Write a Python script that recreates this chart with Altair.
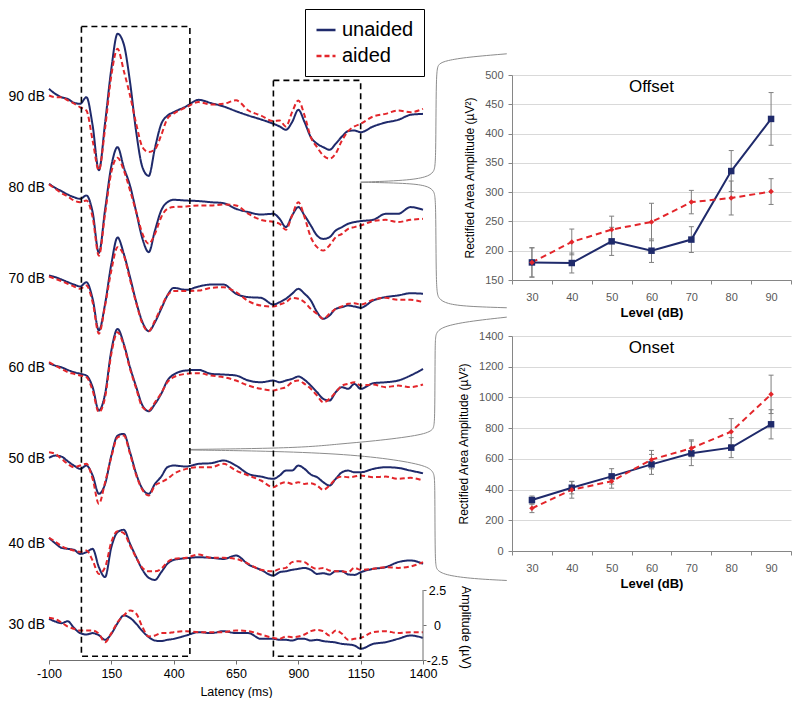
import altair as alt
import pandas as pd

# ---------------- waveform data (left panel) ----------------
LATENCY = [-100, -75, -50, -25, 0, 25, 50, 75, 100, 125, 150, 175, 200, 225, 250, 275, 300, 325, 350, 375, 400,
           450, 500, 550, 600, 650, 700, 750,
           800, 825, 850, 875, 900, 925, 950, 975, 1000, 1025, 1050, 1075, 1100, 1125, 1150,
           1200, 1250, 1300, 1350, 1400]

LEVELS = [90, 80, 70, 60, 50, 40, 30]
LEVEL_LABELS = ["90 dB", "80 dB", "70 dB", "60 dB", "50 dB", "40 dB", "30 dB"]
OFFSETS = [37.68, 31.18, 24.68, 18.39, 11.89, 5.82, 0.0]

U90 = [0.62, 0.26, 0.02, -0.1, -0.38, -0.45, 0.02, -2.0, -5.2, -1.8, 2.05, 4.55, 3.8, 1.1, -2.5, -5.0, -5.6, -3.6, -1.9, -1.3, -1.05,
       -0.64, -0.17, -0.4, -0.64, -0.98, -1.29, -1.57,
       -1.88, -2.07, -2.31, -1.76, -0.88, -1.76, -2.83, -3.3, -3.55, -3.74, -3.3, -2.79, -2.4, -2.36, -2.48,
       -2.07, -1.79, -1.6, -1.24, -1.17]
A90 = [0.14, 0.02, 0.02, -0.2, -0.43, -0.7, -0.93, -3.07, -5.2, -2.2, 1.57, 3.48, 1.9, 0.14, -1.9, -3.55, -3.9, -3.7, -2.7, -1.5, -1.15,
       -0.7, -0.33, -0.5, -0.45, -0.2, -0.93, -1.29,
       -1.69, -1.64, -2.07, -1.05, -0.21, -1.29, -2.83, -3.55, -4.14, -4.38, -4.0, -3.07, -2.4, -2.07, -1.88,
       -1.36, -1.17, -0.93, -1.05, -0.81]
U80 = [0.33, 0.05, -0.19, -0.43, -0.62, -0.74, -0.5, -1.69, -4.6, -1.5, 1.6, 2.95, 1.5, 0.2, -1.69, -3.6, -4.55, -3.0, -1.57, -0.98, -0.81,
       -0.86, -0.9, -0.98, -1.05, -1.45, -1.69, -1.86,
       -1.81, -2.17, -2.76, -1.93, -1.33, -1.93, -2.64, -3.36, -3.6, -3.48, -3.0, -2.76, -2.52, -2.4, -2.33,
       -2.24, -1.81, -1.81, -1.33, -1.52]
A80 = [0.29, -0.02, -0.33, -0.57, -0.86, -0.98, -0.86, -2.05, -4.8, -1.8, 1.17, 2.2, 1.3, -0.14, -1.69, -3.24, -3.95, -3.24, -2.05, -1.45, -1.33,
       -1.29, -1.21, -1.21, -1.14, -1.21, -1.81, -2.24,
       -2.4, -2.52, -2.95, -1.93, -0.98, -2.05, -3.48, -4.19, -4.43, -4.07, -3.48, -3.24, -2.88, -2.76, -2.64,
       -2.33, -2.24, -2.4, -2.24, -2.17]
U70 = [0.29, 0.17, 0.0, -0.19, -0.36, -0.5, -0.19, -1.38, -3.64, -1.74, 1.1, 3.0, 1.83, 0.17, -1.62, -3.05, -3.69, -3.05, -2.1, -1.14, -0.6,
       -0.74, -0.5, -0.36, -0.36, -1.02, -1.26, -1.31,
       -1.79, -1.62, -1.38, -1.02, -0.67, -1.02, -1.5, -2.33, -2.81, -2.57, -2.1, -1.98, -1.86, -1.93, -2.02,
       -1.5, -1.26, -1.14, -0.98, -1.02]
A70 = [0.21, 0.05, -0.12, -0.31, -0.5, -0.67, -0.43, -1.62, -3.88, -1.86, 0.64, 2.31, 1.71, -0.02, -1.69, -3.17, -3.69, -2.93, -1.98, -1.14, -0.83,
       -0.83, -0.79, -0.6, -0.55, -0.9, -1.55, -1.86,
       -1.93, -1.79, -1.62, -1.31, -1.38, -1.62, -2.1, -2.45, -2.81, -2.45, -2.1, -1.93, -1.74, -1.69, -1.79,
       -1.45, -1.31, -1.45, -1.45, -1.62]
U60 = [0.31, 0.14, 0.02, -0.17, -0.33, -0.45, -0.57, -1.4, -3.07, -1.88, 1.21, 2.76, 1.69, 0.02, -1.4, -2.71, -3.12, -2.6, -1.88, -0.93, -0.5,
       -0.21, -0.17, -0.45, -0.5, -0.57, -0.93, -1.05,
       -0.93, -1.05, -0.93, -0.81, -0.64, -0.88, -1.29, -1.76, -2.24, -2.36, -1.76, -1.4, -1.52, -1.17, -1.52,
       -1.12, -1.05, -0.93, -0.57, -0.1]
A60 = [0.38, 0.14, -0.1, -0.33, -0.45, -0.57, -0.69, -1.64, -3.19, -2.12, 0.98, 2.52, 1.57, -0.1, -1.52, -2.83, -3.07, -2.48, -1.83, -1.05, -0.69,
       -0.45, -0.4, -0.57, -0.69, -0.93, -1.29, -1.52,
       -1.64, -1.52, -1.4, -1.05, -0.93, -1.17, -1.52, -2.0, -2.48, -2.24, -1.76, -1.29, -1.17, -1.05, -1.29,
       -1.21, -1.4, -1.29, -1.4, -1.21]
U50 = [0.05, 0.21, 0.14, -0.19, -0.5, -0.74, -0.5, -1.21, -2.52, -1.81, 0.21, 1.64, 1.76, 0.45, -1.1, -2.17, -2.52, -1.81, -1.29, -0.62, -0.5,
       -0.57, -0.38, -0.33, -0.14, -0.5, -1.1, -1.29,
       -1.45, -1.21, -0.86, -0.86, -0.5, -0.74, -1.14, -1.33, -1.69, -1.93, -1.45, -0.98, -0.86, -0.98, -0.98,
       -0.74, -0.62, -0.67, -0.86, -1.05]
A50 = [0.45, 0.33, -0.02, -0.38, -0.62, -0.5, -0.38, -1.45, -3.24, -1.69, 0.1, 1.52, 1.64, 0.33, -1.21, -2.24, -2.64, -1.93, -1.69, -1.45, -1.1,
       -0.74, -0.62, -0.62, -0.38, -0.86, -1.21, -1.57,
       -2.05, -1.81, -1.69, -1.81, -1.69, -1.81, -1.76, -1.93, -2.24, -1.93, -1.45, -1.29, -1.33, -1.29, -1.21,
       -1.33, -1.29, -1.45, -1.38, -1.57]
U40 = [0.4, 0.02, -0.31, -0.38, -0.45, -0.74, -0.62, -0.38, -1.69, -2.4, -0.26, 0.81, 0.98, -0.02, -0.98, -1.88, -2.45, -2.6, -2.05, -1.45, -1.17,
       -1.05, -0.98, -1.02, -1.1, -0.86, -1.5, -1.88,
       -2.29, -2.05, -1.98, -1.88, -1.81, -1.74, -1.88, -2.17, -2.12, -2.21, -1.98, -1.98, -2.21, -2.24, -2.05,
       -1.81, -1.69, -1.33, -1.21, -1.45]
A40 = [0.4, 0.14, -0.19, -0.38, -0.5, -0.6, -0.5, -1.21, -2.17, -1.69, 0.1, 0.88, 0.74, -0.14, -1.02, -1.74, -1.98, -1.98, -1.81, -1.33, -1.1,
       -1.02, -0.79, -1.02, -1.02, -1.1, -1.45, -1.88,
       -1.98, -1.81, -1.74, -1.33, -1.26, -1.33, -1.64, -1.81, -1.74, -1.93, -1.98, -1.98, -2.05, -1.74, -1.88,
       -1.81, -1.69, -1.74, -1.64, -1.33]
U30 = [0.44, 0.25, 0.13, 0.27, -0.2, -0.58, -0.68, -0.58, -0.73, -1.06, -0.63, 0.13, 0.68, 0.51, 0.08, -0.44, -0.87, -1.11, -1.15, -1.06, -0.99,
       -0.75, -0.51, -0.58, -0.44, -0.58, -0.58, -0.99,
       -0.99, -1.06, -1.06, -1.11, -0.99, -0.99, -1.11, -1.06, -1.15, -1.2, -1.25, -1.35, -1.39, -1.46, -1.7,
       -1.35, -1.23, -0.99, -0.75, -0.92]
A30 = [0.51, 0.42, 0.18, -0.11, -0.27, -0.39, -0.39, -0.39, -0.63, -1.23, -0.58, 0.2, 0.68, 1.04, 0.8, -0.15, -0.82, -0.75, -0.58, -0.58, -0.51,
       -0.44, -0.51, -0.51, -0.51, -0.39, -0.44, -0.68,
       -0.92, -0.99, -0.82, -0.87, -0.82, -0.68, -0.44, -0.35, -0.44, -0.75, -0.39, -0.63, -1.06, -0.99, -0.92,
       -0.51, -0.44, -0.58, -0.51, -0.51]

UNAIDED = [U90, U80, U70, U60, U50, U40, U30]
AIDED = [A90, A80, A70, A60, A50, A40, A30]

# dashed analysis windows (ms / uV in the stacked-trace frame)
BOX_START = [30, 800]
BOX_END = [465, 1150]
BOX_TOP = [42.75, 38.9]
BOX_BOTTOM = [-2.23, -2.23]

# curly connectors (annotation, in the left panel's ms / uV frame)
BRACE_OFF_UP_T = [1736, 1575, 1495, 1462, 1452, 1452, 1444, 1415, 1335, 1150]
BRACE_OFF_UP_V = [40.8, 40.56, 40.32, 40.09, 39.61, 32.94, 32.34, 31.99, 31.75, 31.63]
BRACE_OFF_LO_T = [1150, 1335, 1415, 1444, 1452, 1452, 1462, 1495, 1575, 1736]
BRACE_OFF_LO_V = [31.63, 31.56, 31.39, 31.04, 30.44, 23.89, 23.3, 22.94, 22.75, 22.66]
BRACE_ON_UP_T = [1736, 1577, 1480, 1452, 1448, 1448, 1441, 1388, 1201, 1067, 907, 466]
BRACE_ON_UP_V = [21.99, 21.68, 21.32, 20.89, 20.32, 14.37, 13.89, 13.54, 13.13, 12.94, 12.64, 12.54]
BRACE_ON_LO_T = [466, 770, 1067, 1268, 1415, 1444, 1448, 1448, 1455, 1495, 1602, 1736]
BRACE_ON_LO_V = [12.5, 12.43, 12.23, 11.87, 11.39, 10.91, 10.32, 4.37, 3.89, 3.54, 3.3, 3.18]

# ---------------- summary data (right panels) ----------------
LEVEL_DB = [30, 40, 50, 60, 70, 80, 90]
OFFSET_UNAIDED = [180, 179, 216, 200, 219, 336, 425]
OFFSET_UNAIDED_ERR = [25, 17, 24, 20, 22, 35, 45]
OFFSET_AIDED = [180, 215, 236, 249, 283, 290, 301]
OFFSET_AIDED_ERR = [25, 22, 23, 32, 20, 29, 22]
ONSET_UNAIDED = [332, 412, 486, 564, 636, 673, 825]
ONSET_UNAIDED_ERR = [26, 40, 50, 65, 80, 65, 95]
ONSET_AIDED = [278, 399, 454, 595, 669, 777, 1020]
ONSET_AIDED_ERR = [28, 55, 45, 60, 55, 85, 125]

BLUE = "#1f2a6b"
RED = "#e3262b"
FONT = "Liberation Sans"

# ---------------- build tables ----------------
rows = []
for lev, off, u, a in zip(LEVELS, OFFSETS, UNAIDED, AIDED):
    for t, vu, va in zip(LATENCY, u, a):
        rows.append({"level": lev, "cond": "unaided", "t": t, "y": vu + off})
        rows.append({"level": lev, "cond": "aided", "t": t, "y": va + off})
wave = pd.DataFrame(rows)

boxes = pd.DataFrame({"x0": BOX_START, "x1": BOX_END, "y0": BOX_BOTTOM, "y1": BOX_TOP})

brace_rows = []
for name, ts, vs in [("ou", BRACE_OFF_UP_T, BRACE_OFF_UP_V), ("ol", BRACE_OFF_LO_T, BRACE_OFF_LO_V),
                     ("nu", BRACE_ON_UP_T, BRACE_ON_UP_V), ("nl", BRACE_ON_LO_T, BRACE_ON_LO_V)]:
    for i, (t, v) in enumerate(zip(ts, vs)):
        brace_rows.append({"seg": name, "i": i, "t": t, "y": v})
braces = pd.DataFrame(brace_rows)

labels = pd.DataFrame({"t": [-100] * len(LEVELS), "y": OFFSETS, "label": LEVEL_LABELS})

# ---------------- left panel ----------------
W_L, H_L = 374, 642
xs = alt.Scale(domain=[-100, 1400], nice=False, zero=False)
ys = alt.Scale(domain=[-2.5, -2.5 + H_L / 14.0], nice=False, zero=False)

neg_expr = "datum.value < 0 ? '-' + abs(datum.value) : '' + datum.value"
x_axis = alt.Axis(values=[-100, 150, 400, 650, 900, 1150, 1400], labelExpr=neg_expr, labelFlush=False,
                  title="Latency (ms)", labelFontSize=12.5, titleFontSize=12.5, titleFontWeight="normal",
                  labelColor="black", titleColor="black", domainColor="#6f6f6f", tickColor="#6f6f6f",
                  tickSize=4, labelPadding=3, titlePadding=6, grid=False)
y_axis = alt.Axis(orient="right", values=[-2.5, 0, 2.5], labelExpr=neg_expr, domain=False, grid=False,
                  tickSize=3, tickColor="#6f6f6f", labelAlign="center", labelPadding=11, labelFontSize=12.5,
                  labelColor="black", title="Amplitude (µV)", titleAngle=90, titleX=42, titleY=609,
                  titleAlign="center", titleBaseline="middle", titleFontSize=12.5, titleFontWeight="normal",
                  titleColor="black")


def LX(f):
    return alt.X(f, scale=xs, axis=x_axis)


def LY(f):
    return alt.Y(f, scale=ys, axis=y_axis)


leg = alt.Legend(orient="none", legendX=256, legendY=-9, title=None, fillColor="white", strokeColor="black",
                 padding=10, labelFontSize=20, labelColor="black", symbolType="stroke", symbolStrokeWidth=2.5,
                 symbolSize=361, rowPadding=5, labelOffset=5)
color = alt.Color("cond:N", scale=alt.Scale(domain=["unaided", "aided"], range=[BLUE, RED]), legend=leg)
dash = alt.StrokeDash("cond:N", scale=alt.Scale(domain=["unaided", "aided"], range=[[1, 0], [5, 3]]), legend=leg)

line_u = alt.Chart(wave[wave["cond"] == "unaided"]).mark_line(strokeWidth=2, interpolate="monotone").encode(
    x=LX("t:Q"), y=LY("y:Q"), color=color, strokeDash=dash, detail="level:N")
line_a = alt.Chart(wave[wave["cond"] == "aided"]).mark_line(strokeWidth=2, interpolate="monotone").encode(
    x=LX("t:Q"), y=LY("y:Q"), color=color, strokeDash=dash, detail="level:N")
box_layer = alt.Chart(boxes).mark_rect(fillOpacity=0, stroke="black", strokeWidth=1.6, strokeDash=[6, 4]).encode(
    x=LX("x0:Q"), x2="x1:Q", y=LY("y0:Q"), y2="y1:Q")
brace_layer = alt.Chart(braces).mark_line(color="#8c8c8c", strokeWidth=1, interpolate="basis", clip=False).encode(
    x=LX("t:Q"), y=LY("y:Q"), detail="seg:N", order="i:Q")
label_layer = alt.Chart(labels).mark_text(align="right", baseline="middle", dx=-4, fontSize=14, color="black").encode(
    x=LX("t:Q"), y=LY("y:Q"), text="label:N")
amp_rule = alt.Chart(pd.DataFrame({"t": [1400], "y0": [-2.5], "y1": [2.5]})).mark_rule(color="#6f6f6f").encode(
    x=LX("t:Q"), y=LY("y0:Q"), y2="y1:Q")

left = alt.layer(line_u, line_a, brace_layer, box_layer, label_layer, amp_rule).properties(width=W_L, height=H_L)

# ---------------- right panels ----------------
W_R = 279


def panel(name, ydom, yvals, uv, ue, av, ae, height):
    df = pd.DataFrame({"level": LEVEL_DB, "u": uv, "ue": ue, "a": av, "ae": ae})
    base = alt.Chart(df).transform_calculate(
        ulo="datum.u - datum.ue", uhi="datum.u + datum.ue",
        alo="datum.a - datum.ae", ahi="datum.a + datum.ae")
    xax = alt.Axis(values=[25, 35, 45, 55, 65, 75, 85, 95],
                   labelExpr="datum.value < 90 ? '' + (datum.value + 5) : ''",
                   labelOffset=W_R / 14.0, labelFlush=False, grid=False, tickSize=4, tickColor="#868686",
                   domainColor="#868686", labelColor="#595959", labelFontSize=11, labelPadding=7,
                   title="Level (dB)", titleFontSize=13, titleFontWeight="bold", titleColor="black",
                   titlePadding=4)
    X = alt.X("level:Q", scale=alt.Scale(domain=[25, 95], nice=False, zero=False), axis=xax)
    ysc = alt.Scale(domain=ydom, nice=False, zero=False)
    yax = alt.Axis(values=yvals, format="d", grid=True, gridColor="#d9d9d9", tickSize=4, tickColor="#868686",
                   domainColor="#868686", labelColor="#595959", labelFontSize=11, labelPadding=5,
                   title="Rectified Area Amplitude  (µV²)", titleFontSize=12, titleFontWeight="normal",
                   titleColor="black", titlePadding=8)

    def Y(f):
        return alt.Y(f, scale=ysc, axis=yax)

    line_un = base.mark_line(color=BLUE, strokeWidth=2).encode(x=X, y=Y("u:Q"))
    line_ai = base.mark_line(color=RED, strokeWidth=2, strokeDash=[6, 4]).encode(x=X, y=Y("a:Q"))
    err_un = base.mark_rule(color="#7f7f7f", strokeWidth=1).encode(x=X, y=Y("ulo:Q"), y2="uhi:Q")
    err_ai = base.mark_rule(color="#7f7f7f", strokeWidth=1).encode(x=X, y=Y("alo:Q"), y2="ahi:Q")
    caps = [base.mark_tick(orient="horizontal", size=5, thickness=1, color="#7f7f7f", opacity=1).encode(x=X, y=Y(f))
            for f in ["ulo:Q", "uhi:Q", "alo:Q", "ahi:Q"]]
    pts_un = base.mark_point(shape="square", filled=True, size=42, color=BLUE, opacity=1).encode(x=X, y=Y("u:Q"))
    pts_ai = base.mark_point(shape="diamond", filled=True, size=30, color=RED, opacity=1).encode(x=X, y=Y("a:Q"))
    ttl = alt.Chart(pd.DataFrame({"t": [name]})).mark_text(fontSize=17, baseline="middle", color="black").encode(
        text="t:N", x=alt.value(W_R / 2), y=alt.value(12))
    return alt.layer(line_un, line_ai, err_un, err_ai, *caps, pts_un, pts_ai, ttl).properties(width=W_R, height=height)


offset_panel = panel("Offset", [150, 500], [150, 200, 250, 300, 350, 400, 450, 500],
                     OFFSET_UNAIDED, OFFSET_UNAIDED_ERR, OFFSET_AIDED, OFFSET_AIDED_ERR, 205)
onset_panel = panel("Onset", [0, 1400], [0, 200, 400, 600, 800, 1000, 1200, 1400],
                    ONSET_UNAIDED, ONSET_UNAIDED_ERR, ONSET_AIDED, ONSET_AIDED_ERR, 215)

spacer = alt.Chart(pd.DataFrame({"v": [0]})).mark_point(opacity=0).encode(
    x=alt.X("v:Q", axis=None), y=alt.Y("v:Q", axis=None)).properties(width=W_R, height=1)

right = alt.vconcat(spacer, offset_panel, onset_panel, spacing=56, bounds="flush")

chart = alt.hconcat(left, right, spacing=89, bounds="flush").resolve_scale(
    color="independent", strokeDash="independent").properties(padding=0).configure(
    font=FONT).configure_view(strokeWidth=0)

chart.save("out.html", embed_options={"renderer": "svg", "actions": False})
